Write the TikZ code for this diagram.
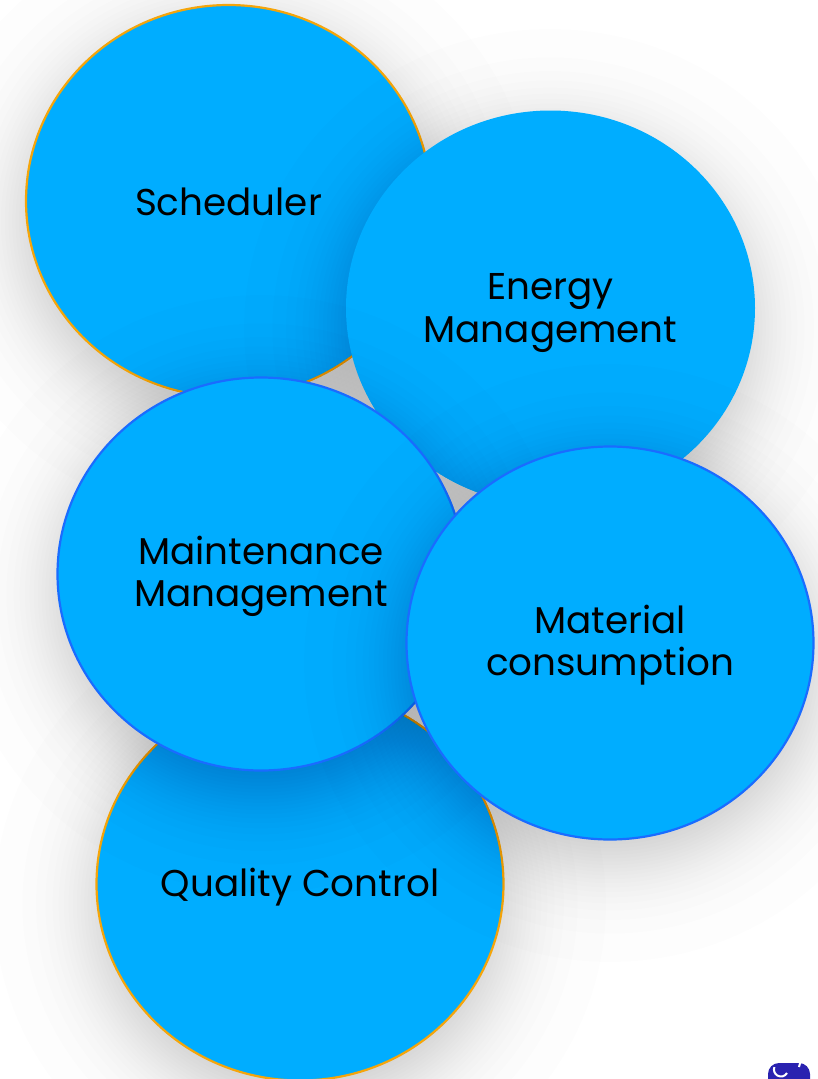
\documentclass[tikz,border=0pt]{standalone}
\usepackage{fontspec}
\setmainfont{Poppins}
\usetikzlibrary{shapes.geometric}
\definecolor{discblue}{HTML}{00ADFF}
\definecolor{ringblue}{HTML}{1A6CFF}
\definecolor{ringorange}{HTML}{F5A50A}
\definecolor{logoblue}{HTML}{2A22B0}
\tikzset{
  disc/.style={ellipse,fill=discblue,inner sep=0pt,minimum width=407,minimum height=393,
    align=center,font=\fontsize{37.3}{42.5}\selectfont},
  orangedisc/.style={disc,draw=ringorange,line width=2.2pt},
  bluedisc/.style={disc,draw=ringblue,line width=2.2pt}
}
\newcommand{\discshadow}[2]{%
  \foreach \s in {1,...,30} {
    \pgfmathsetmacro{\grow}{25*ln((\s-.5)/(30.5-\s))}
    \fill [black,opacity=.008] (#1,#2+20) ellipse [x radius=204+\grow, y radius=197+\grow];
  }}
\begin{document}
\begin{tikzpicture}[x=1pt,y=-1pt]
\useasboundingbox (0,0) rectangle (818,1079);
\discshadow{228}{201}
\node [orangedisc,minimum width=405,minimum height=392] (scheduler) at (228.5,201) {\rule{0pt}{29pt}Scheduler};
\discshadow{550}{308}
\node [disc,minimum width=409,minimum height=395] (energy) at (550.5,308) {\rule{0pt}{36pt}Energy\\Management};
\discshadow{300}{884}
\node [orangedisc] (quality) at (300,884) {\rule{0pt}{35pt}Quality Control};
\discshadow{261}{574}
\node [bluedisc] (maintenance) at (261,574) {\rule{0pt}{33pt}Maintenance\\Management};
\discshadow{610}{643}
\node [bluedisc] (material) at (610,643) {\rule{0pt}{33pt}Material\\consumption};
% logo in the corner
\fill [logoblue,rounded corners=11pt] (768,1063) rectangle (810,1090);
\draw [white,line width=2pt] (787,1073) arc [start angle=30, end angle=200, radius=7];
\draw [white,line width=2pt] (799,1067) arc [start angle=30, end angle=-70, radius=9];
\end{tikzpicture}
\end{document}
